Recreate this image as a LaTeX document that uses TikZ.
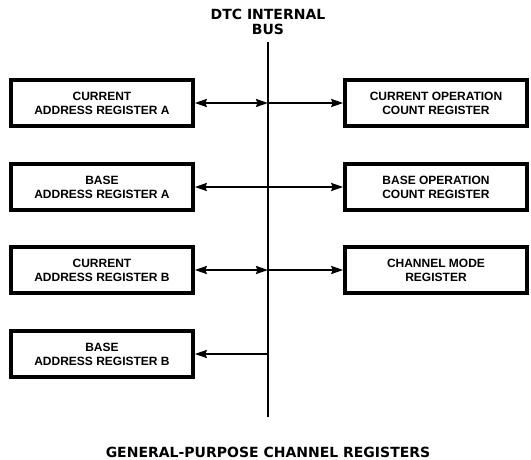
\documentclass[tikz,border=0pt]{standalone}
\usepackage{fontspec}
\setmainfont{Liberation Sans}
\newfontfamily\heavyfont{DejaVu Sans}
\usetikzlibrary{arrows.meta}
\begin{document}
\begin{tikzpicture}[x=1pt,y=-1pt,
  regbox/.style={draw, line width=3.6pt, minimum width=182pt, minimum height=46.5pt,
    inner sep=0pt, align=center, font=\fontsize{12}{14}\selectfont\bfseries},
  title/.style={inner sep=0pt, align=center, font=\fontsize{14}{15}\selectfont\heavyfont\bfseries},
  busline/.style={line width=2.2pt},
  conn/.style={line width=2pt, arrows={-Stealth[length=12pt,width=8pt,inset=1.5pt]}},
  conn2/.style={line width=2pt, arrows={Stealth[length=12pt,width=8pt,inset=1.5pt]-Stealth[length=12pt,width=8pt,inset=1.5pt]}}
]
\useasboundingbox (0,0) rectangle (531,460);
\node[title] (bustitle) at (268,21.7) {DTC INTERNAL\\BUS};
\coordinate (bustop) at (268,42);
\coordinate (busbot) at (268,417);
\draw[busline] (bustop) -- (busbot);

\node[regbox] (l1) at (102,103) {CURRENT\\ADDRESS REGISTER A};
\node[regbox] (l2) at (102,187) {BASE\\ADDRESS REGISTER A};
\node[regbox] (l3) at (102,270) {CURRENT\\ADDRESS REGISTER B};
\node[regbox] (l4) at (102,354) {BASE\\ADDRESS REGISTER B};
\node[regbox] (r1) at (436,103) {CURRENT OPERATION\\COUNT REGISTER};
\node[regbox] (r2) at (436,187) {BASE OPERATION\\COUNT REGISTER};
\node[regbox] (r3) at (436,270) {CHANNEL MODE\\REGISTER};

\coordinate (b1) at (268,103);
\coordinate (b3) at (268,270);
\coordinate (b4) at (268,354);

\draw[conn2] (l1.east) -- (b1);
\draw[conn] (b1) -- (r1.west);
\draw[conn2] (l2.east) -- (r2.west);
\draw[conn2] (l3.east) -- (b3);
\draw[conn] (b3) -- (r3.west);
\draw[conn] (b4) -- (l4.east);

\node[title] (caption) at (268,452) {GENERAL-PURPOSE CHANNEL REGISTERS};
\end{tikzpicture}
\end{document}
